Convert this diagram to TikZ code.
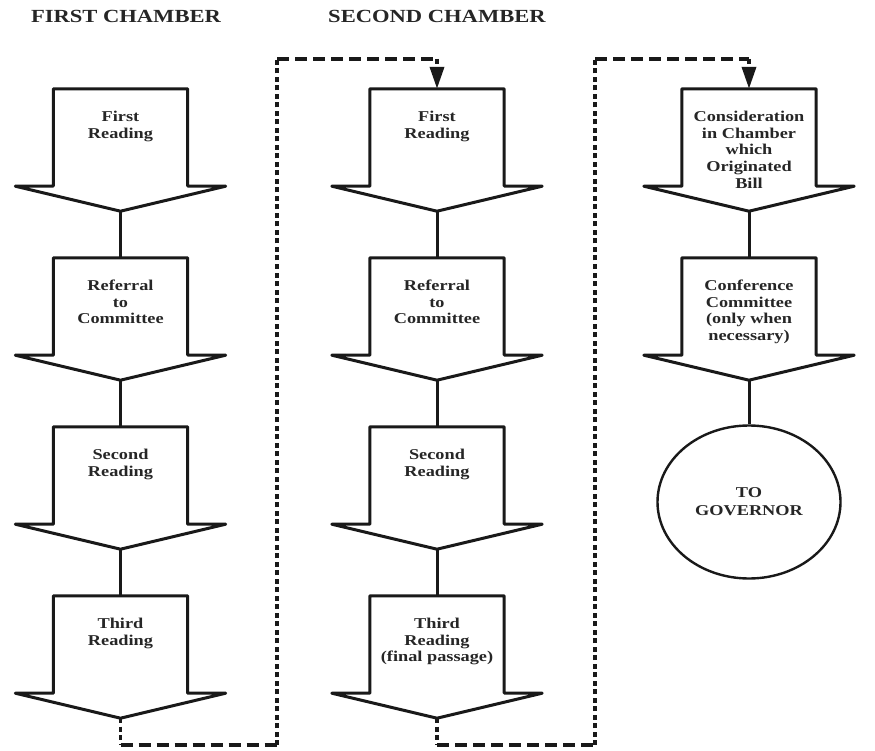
\documentclass[tikz,border=0pt]{standalone}
\usepackage{fontspec}
\setmainfont{Liberation Serif}[FakeStretch=1.22]
\usetikzlibrary{arrows.meta,shapes.geometric}
\tikzset{
  billshape/.style={line width=3pt, line join=round, draw=black!90},
  bodybox/.style={inner sep=0pt, minimum width=134pt, minimum height=97pt, draw=none},
  lbl/.style={font=\fontsize{15}{16.7}\selectfont\bfseries, align=center, inner sep=0pt, anchor=north, text=black!85},
  head/.style={font=\fontsize{18.5}{20}\selectfont\bfseries, inner sep=0pt, text=black!85},
  link/.style={line width=3pt, draw=black!90},
  reth/.style={line width=3.2pt, draw=black!90, dash pattern=on 12pt off 6pt},
  retv/.style={line width=3.6pt, draw=black!90, dash pattern=on 5pt off 3.5pt},
  retend/.style={retv, -{Triangle[length=22pt,width=14pt]}},
  govnode/.style={draw=black!90, ellipse, line width=2.4pt, minimum width=183pt, minimum height=153pt, inner sep=0pt, font=\fontsize{15}{18}\selectfont\bfseries, align=center, text=black!85},
}
\newcommand\billarrow[4]{%
  \node[bodybox] (#1) at (#2,#3+48.5) {};
  \draw[billshape] (#1.north west) -- (#1.north east) -- (#1.south east) -- ++(38pt,0)
     -- ([yshift=-25pt]#1.south) -- ([xshift=-38pt]#1.south west) -- (#1.south west) -- cycle;
  \node[lbl] (#1-t) at ([yshift=-22pt]#1.north) {#4};
  \coordinate (#1-tip) at ([yshift=-25pt]#1.south);
}
\begin{document}
\begin{tikzpicture}[x=1pt,y=-1pt]
\useasboundingbox[fill=white] (0,0) rectangle (875,751);

\node[head] (h1) at (126,16) {FIRST CHAMBER};
\node[head] (h2) at (437,16) {SECOND CHAMBER};

% first chamber
\billarrow{c1a}{120.5}{89}{First\\Reading}
\billarrow{c1b}{120.5}{258}{Referral\\to\\Committee}
\billarrow{c1c}{120.5}{427}{Second\\Reading}
\billarrow{c1d}{120.5}{596}{Third\\Reading}
% second chamber
\billarrow{c2a}{437}{89}{First\\Reading}
\billarrow{c2b}{437}{258}{Referral\\to\\Committee}
\billarrow{c2c}{437}{427}{Second\\Reading}
\billarrow{c2d}{437}{596}{Third\\Reading\\(final passage)}
% third column
\billarrow{c3a}{749}{89}{Consideration\\in Chamber\\which\\Originated\\Bill}
\billarrow{c3b}{749}{258}{Conference\\Committee\\(only when\\necessary)}
\node[govnode] (gov) at (749,502) {TO\\GOVERNOR};

\draw[link] (c1a-tip) -- (c1b.north);
\draw[link] (c1b-tip) -- (c1c.north);
\draw[link] (c1c-tip) -- (c1d.north);
\draw[link] (c2a-tip) -- (c2b.north);
\draw[link] (c2b-tip) -- (c2c.north);
\draw[link] (c2c-tip) -- (c2d.north);
\draw[link] (c3a-tip) -- (c3b.north);
\draw[link] (c3b-tip) -- (gov.north);

% return paths (dashed)
\coordinate (r1c) at (120.5,745);
\coordinate (r1a) at (277,745);
\coordinate (r1b) at (277,59);
\coordinate (r1d) at (437,59);
\coordinate (r2c) at (437,745);
\coordinate (r2a) at (595,745);
\coordinate (r2b) at (595,59);
\coordinate (r2d) at (749,59);
\draw[retv] (c1d-tip) -- (r1c);
\draw[reth] (r1c) -- (r1a);
\draw[retv] (r1a) -- (r1b);
\draw[reth] (r1b) -- (r1d);
\draw[retend] (r1d) -- (c2a.north);
\draw[retv] (c2d-tip) -- (r2c);
\draw[reth] (r2c) -- (r2a);
\draw[retv] (r2a) -- (r2b);
\draw[reth] (r2b) -- (r2d);
\draw[retend] (r2d) -- (c3a.north);
\end{tikzpicture}
\end{document}
